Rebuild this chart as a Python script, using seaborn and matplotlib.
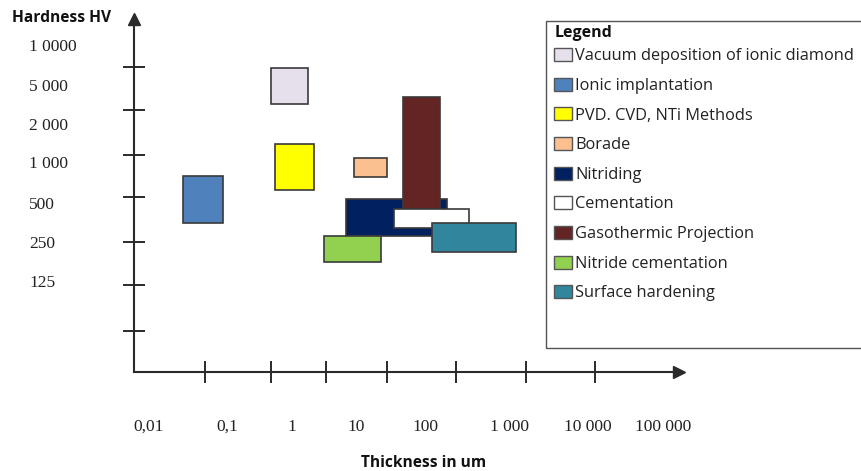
import numpy as np
import matplotlib
matplotlib.use("Agg")
import matplotlib.pyplot as plt
from matplotlib.patches import Patch, Rectangle
import seaborn as sns

# --- data (thickness in um, hardness HV) ---
methods = ["Vacuum deposition of ionic diamond", "Ionic implantation",
           "PVD. CVD, NTi Methods", "Borade", "Nitriding", "Cementation",
           "Gasothermic Projection", "Nitride cementation", "Surface hardening"]
thick_min = [0.48, 0.027, 0.55, 9.3, 7.0, 36, 48, 3.2, 120]
thick_max = [1.8, 0.089, 2.2, 28, 180, 330, 150, 23, 1200]
hard_min = [3350, 360, 640, 800, 290, 330, 465, 180, 215]
hard_max = [7000, 820, 1440, 1120, 550, 465, 3950, 290, 360]
colors = ["#E6E0EC", "#4F81BD", "#FFFF00", "#FAC090", "#002060",
          "#FFFFFF", "#632523", "#92D050", "#31859C"]
# drawing order (overlaps as in the original)
draw_order = [1, 0, 2, 3, 4, 6, 5, 8, 7]

x_labels = ["0,01", "0,1", "1", "10", "100", "1 000", "10 000", "100 000"]
x_label_vals = [0.01, 0.1, 1, 10, 100, 1000, 10000, 100000]
y_labels = ["125", "250", "500", "1 000", "2 000", "5 000", "1 0000"]
y_label_vals = [125, 250, 500, 1000, 2000, 5000, 10000]

# --- layout (pixels of the 861x471 figure) ---
W, H = 861, 471
x_label_px = [149, 227, 292, 356, 425, 510, 588, 663]
y_label_px = [283, 244, 205, 164, 126, 87, 47]
x_tick_px = [205, 271, 326, 387, 456, 526, 595]
y_tick_px = [67, 110, 155, 197, 242, 285, 331]
ax_left, ax_right, ax_top, ax_bottom = 134, 679, 19, 372


def piecewise(xp, fp):
    xp = np.asarray(xp, float)
    fp = np.asarray(fp, float)

    def f(v):
        v = np.asarray(v, float)
        out = np.interp(v, xp, fp)
        lo = fp[0] + (v - xp[0]) * (fp[1] - fp[0]) / (xp[1] - xp[0])
        hi = fp[-1] + (v - xp[-1]) * (fp[-1] - fp[-2]) / (xp[-1] - xp[-2])
        return np.where(v < xp[0], lo, np.where(v > xp[-1], hi, out))
    return f


xl = np.log10(x_label_vals)
yl = np.log10(y_label_vals)
x_to_px = piecewise(xl, x_label_px)
px_to_x = piecewise(x_label_px, xl)
y_to_px = piecewise(yl, -np.asarray(y_label_px, float))
px_to_y = piecewise(-np.asarray(y_label_px, float), yl)


def x_fwd(t):
    return x_to_px(np.log10(np.clip(t, 1e-30, None)))


def x_inv(p):
    return 10 ** px_to_x(p)


def y_fwd(h):
    return y_to_px(np.log10(np.clip(h, 1e-30, None)))


def y_inv(p):
    return 10 ** px_to_y(p)


sns.set_theme(style="white")
plt.rcParams["font.family"] = ["Open Sans", "DejaVu Sans"]

fig = plt.figure(figsize=(W / 100, H / 100), dpi=100)
ax = fig.add_axes([ax_left / W, (H - ax_bottom) / H,
                   (ax_right - ax_left) / W, (ax_bottom - ax_top) / H])
ax.set_xscale("function", functions=(x_fwd, x_inv))
ax.set_yscale("function", functions=(y_fwd, y_inv))
ax.set_xlim(x_inv(ax_left), x_inv(ax_right))
ax.set_ylim(y_inv(-ax_bottom), y_inv(-ax_top))

for i in draw_order:
    ax.bar(thick_min[i], hard_max[i] - hard_min[i],
           width=thick_max[i] - thick_min[i], bottom=hard_min[i],
           align="edge", color=colors[i], edgecolor="#3a3a3a",
           linewidth=1.2, zorder=3)

axis_col = "#2a2a2a"
sns.despine(ax=ax)
for s in ["left", "bottom"]:
    ax.spines[s].set_color(axis_col)
    ax.spines[s].set_linewidth(1.5)

ax.set_xticks(x_inv(np.array(x_tick_px, float)))
ax.set_yticks(y_inv(-np.array(y_tick_px, float)))
ax.set_xticklabels([])
ax.set_yticklabels([])
ax.minorticks_off()
ax.tick_params(axis="both", direction="inout", length=16, width=1.4,
               color=axis_col, bottom=True, left=True)
ax.grid(False)

# arrow heads
ax.plot([1], [0], marker=">", ms=9, color=axis_col, transform=ax.transAxes,
        clip_on=False)
ax.plot([0], [1], marker="^", ms=9, color=axis_col, transform=ax.transAxes,
        clip_on=False)

num_font = dict(family=["Liberation Serif", "DejaVu Serif"], fontsize=12.5,
                color="#222222")
xlab_y = (ax_bottom - 427) / (ax_bottom - ax_top)
for v, lab in zip(x_label_vals, x_labels):
    ax.text(v, xlab_y, lab, transform=ax.get_xaxis_transform(),
            ha="center", va="center", **num_font)
ylab_x = (29 - ax_left) / (ax_right - ax_left)
for v, lab in zip(y_label_vals, y_labels):
    ax.text(ylab_x, v, lab, transform=ax.get_yaxis_transform(),
            ha="left", va="center", **num_font)

fig.text(12 / W, 1 - 18 / H, "Hardness HV", ha="left", va="center",
         fontsize=11.2, fontweight="bold", color="#111111")
fig.text(424 / W, 1 - 463 / H, "Thickness in um", ha="center", va="center",
         fontsize=11.2, fontweight="bold", color="#111111")

# legend box and entries
fig.add_artist(Rectangle((546 / W, 1 - 348 / H), (880 - 546) / W,
                         (348 - 21) / H, transform=fig.transFigure,
                         fill=False, edgecolor="#555555", linewidth=1))
fig.text(555 / W, 1 - 33 / H, "Legend", ha="left", va="center",
         fontsize=11.5, fontweight="bold", color="#111111")
handles = [Patch(facecolor=c, edgecolor="#555555", linewidth=1) for c in colors]
leg = fig.legend(handles, methods, loc="upper left",
                 bbox_to_anchor=(554 / W, 1 - 48 / H), frameon=False,
                 fontsize=11.8,
                 handlelength=1.1, handleheight=0.85, handletextpad=0.2,
                 labelspacing=0.82, borderpad=0, borderaxespad=0)
for t in leg.get_texts():
    t.set_color("#222222")

fig.savefig("out.png", dpi=100, facecolor="white")
